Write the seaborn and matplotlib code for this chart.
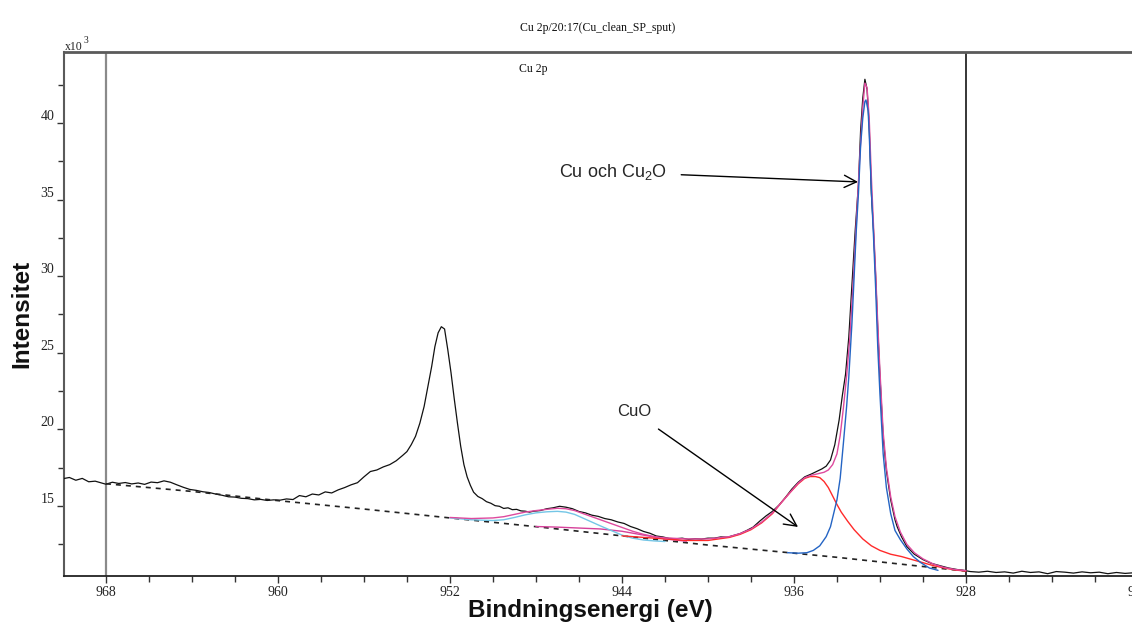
import matplotlib
matplotlib.use("Agg")
import matplotlib.pyplot as plt
import seaborn as sns
import pandas as pd
from matplotlib.ticker import MultipleLocator

# ---------------- data (intensity in units of 10^3 counts) ----------------
spec_energy = [970.0, 969.7, 969.4, 969.1, 968.8, 968.5, 968.2, 968.0, 967.7, 967.4,
               967.1, 966.8, 966.5, 966.2, 965.9, 965.6, 965.3, 965.0, 964.7, 964.4,
               964.1, 963.8, 963.5, 963.2, 962.9, 962.6, 962.3, 962.0, 961.7, 961.4,
               961.1, 960.8, 960.5, 960.2, 959.9, 959.6, 959.3, 959.0, 958.7, 958.4,
               958.1, 957.8, 957.5, 957.2, 956.9, 956.6, 956.3, 956.0, 955.7, 955.4,
               955.1, 954.8, 954.5, 954.2, 954.0, 953.8, 953.6, 953.4, 953.2, 953.0,
               952.85, 952.7, 952.55, 952.4, 952.25, 952.1, 951.95, 951.8, 951.65, 951.5,
               951.35, 951.2, 951.05, 950.9, 950.7, 950.5, 950.3, 950.1, 949.9, 949.7,
               949.5, 949.3, 949.1, 948.9, 948.7, 948.5, 948.3, 948.1, 947.8, 947.5,
               947.2, 946.9, 946.6, 946.3, 946.0, 945.7, 945.4, 945.1, 944.8, 944.5,
               944.2, 943.9, 943.6, 943.3, 943.0, 942.7, 942.4, 942.1, 941.8, 941.5,
               941.2, 940.9, 940.6, 940.3, 940.0, 939.7, 939.4, 939.1, 938.8, 938.5,
               938.2, 937.9, 937.6, 937.3, 937.0, 936.7, 936.4, 936.1, 935.8, 935.5,
               935.2, 934.9, 934.7, 934.5, 934.3, 934.1, 933.9, 933.75, 933.6, 933.45,
               933.3, 933.15, 933.0, 932.9, 932.8, 932.7, 932.6, 932.5, 932.4, 932.3,
               932.2, 932.1, 932.0, 931.85, 931.7, 931.5, 931.3, 931.2, 931.0, 930.75,
               930.4, 930.0, 929.6, 929.2, 928.8, 928.4, 928.1, 927.8, 927.4, 927.0,
               926.6, 926.2, 925.8, 925.4, 925.0, 924.6, 924.2, 923.8, 923.4, 923.0,
               922.6, 922.2, 921.8, 921.4, 921.0, 920.6, 920.2, 919.8, 919.4]
spec_counts = [16.78, 16.86, 16.68, 16.80, 16.58, 16.62, 16.50, 16.42, 16.55, 16.47,
               16.53, 16.44, 16.50, 16.41, 16.56, 16.52, 16.64, 16.55, 16.38, 16.22,
               16.08, 16.02, 15.93, 15.88, 15.78, 15.70, 15.60, 15.58, 15.50, 15.48,
               15.40, 15.43, 15.36, 15.40, 15.38, 15.46, 15.42, 15.68, 15.60, 15.78,
               15.72, 15.92, 15.85, 16.05, 16.20, 16.38, 16.52, 16.90, 17.25, 17.35,
               17.55, 17.70, 17.95, 18.30, 18.55, 19.00, 19.55, 20.40, 21.50, 23.00,
               24.10, 25.40, 26.30, 26.70, 26.55, 25.20, 23.70, 22.00, 20.40, 18.90,
               17.70, 16.90, 16.35, 15.90, 15.62, 15.48, 15.28, 15.18, 15.02, 14.98,
               14.84, 14.88, 14.76, 14.78, 14.68, 14.66, 14.60, 14.66, 14.70, 14.82,
               14.88, 14.98, 14.92, 14.82, 14.64, 14.55, 14.40, 14.32, 14.18, 14.10,
               13.96, 13.86, 13.66, 13.52, 13.34, 13.22, 13.04, 12.98, 12.88, 12.86,
               12.90, 12.82, 12.86, 12.84, 12.90, 12.90, 12.98, 12.96, 13.08, 13.20,
               13.40, 13.62, 14.00, 14.35, 14.65, 15.05, 15.55, 16.10, 16.55, 16.90,
               17.08, 17.28, 17.42, 17.60, 18.00, 19.00, 20.60, 22.20, 23.60, 26.00,
               29.50, 33.00, 36.00, 39.50, 41.60, 42.85, 42.20, 39.80, 35.40, 33.00,
               30.00, 26.50, 23.50, 19.50, 17.30, 15.40, 14.10, 13.65, 13.00, 12.35,
               11.85, 11.50, 11.25, 11.10, 10.95, 10.85, 10.80, 10.72, 10.68, 10.74,
               10.66, 10.70, 10.62, 10.74, 10.66, 10.70, 10.58, 10.72, 10.68, 10.62,
               10.70, 10.64, 10.68, 10.58, 10.66, 10.60, 10.64, 10.58, 10.62]

bg_energy = [968.0, 964.0, 960.0, 956.0, 952.0, 948.0, 944.0, 940.0, 936.0, 934.0,
             932.0, 930.0, 928.0]
bg_counts = [16.45, 15.95, 15.35, 14.80, 14.22, 13.65, 13.05, 12.45, 11.92, 11.65,
             11.35, 11.05, 10.75]

cu_energy = [936.3, 935.8, 935.4, 935.1, 934.8, 934.5, 934.3, 934.0, 933.85, 933.7,
             933.55, 933.45, 933.3, 933.2, 933.1, 933.0, 932.9, 932.8, 932.7, 932.65,
             932.55, 932.5, 932.4, 932.3, 932.2, 932.1, 932.0, 931.85, 931.7, 931.5,
             931.3, 931.05, 930.75, 930.45, 930.1, 929.7, 929.3]
cu_counts = [11.95, 11.92, 11.95, 12.10, 12.40, 13.00, 13.65, 15.40, 16.80, 19.10,
             21.50, 23.40, 27.00, 30.00, 33.00, 35.40, 38.50, 40.30, 41.40, 41.50,
             40.80, 39.30, 35.60, 32.60, 29.20, 25.30, 22.30, 18.40, 16.20, 14.50,
             13.40, 12.80, 12.20, 11.70, 11.30, 10.95, 10.80]

cuo_energy = [944.0, 943.0, 942.0, 941.0, 940.0, 939.0, 938.5, 938.0, 937.5, 937.0,
              936.6, 936.2, 935.8, 935.5, 935.25, 935.0, 934.8, 934.6, 934.4, 934.2,
              934.0, 933.8, 933.5, 933.2, 932.8, 932.4, 932.0, 931.5, 931.0, 930.5,
              930.0, 929.5, 929.0, 928.5, 928.0]
cuo_counts = [13.05, 12.95, 12.85, 12.75, 12.75, 12.95, 13.15, 13.45, 13.90, 14.50,
              15.20, 15.85, 16.45, 16.80, 16.92, 16.92, 16.85, 16.60, 16.20, 15.65,
              15.10, 14.60, 14.00, 13.45, 12.85, 12.40, 12.10, 11.85, 11.70, 11.50,
              11.30, 11.10, 10.95, 10.82, 10.75]

sat1_energy = [952.0, 951.0, 950.0, 949.5, 949.0, 948.5, 948.0, 947.5, 947.0, 946.6,
               946.2, 945.8, 945.4, 945.0, 944.5, 944.0, 943.5, 943.0, 942.5, 942.0]
sat1_counts = [14.22, 14.10, 14.05, 14.10, 14.25, 14.42, 14.55, 14.62, 14.65, 14.60,
               14.45, 14.20, 13.95, 13.70, 13.40, 13.10, 12.90, 12.78, 12.72, 12.68]

sat2_energy = [948.0, 947.0, 946.0, 945.0, 944.0, 943.0, 942.0, 941.0]
sat2_counts = [13.66, 13.62, 13.56, 13.50, 13.35, 13.10, 12.85, 12.70]

env_energy = [952.0, 951.0, 950.0, 949.5, 949.0, 948.5, 948.0, 947.5, 947.0, 946.6,
              946.2, 945.8, 945.4, 945.0, 944.5, 944.0, 943.5, 943.0, 942.5, 942.0,
              941.0, 940.0, 939.0, 938.5, 938.0, 937.5, 937.0, 936.6, 936.2, 935.8,
              935.5, 935.2, 934.9, 934.6, 934.4, 934.2, 934.0, 933.85, 933.7, 933.55,
              933.4, 933.25, 933.1, 932.95, 932.8, 932.7, 932.6, 932.5, 932.4, 932.3,
              932.2, 932.1, 932.0, 931.85, 931.7, 931.5, 931.3, 931.05, 930.75, 930.4,
              930.0, 929.5, 929.0, 928.5, 928.0]
env_counts = [14.25, 14.18, 14.22, 14.30, 14.45, 14.60, 14.70, 14.78, 14.85, 14.82,
              14.70, 14.50, 14.30, 14.10, 13.85, 13.60, 13.35, 13.15, 13.00, 12.92,
              12.85, 12.85, 13.00, 13.20, 13.50, 13.95, 14.55, 15.20, 15.85, 16.50,
              16.85, 17.00, 17.10, 17.20, 17.35, 17.70, 18.40, 19.60, 21.40, 23.50,
              26.00, 29.50, 33.50, 37.50, 41.00, 42.60, 42.30, 40.30, 36.50, 33.30,
              30.20, 26.80, 23.80, 19.80, 17.50, 15.60, 14.30, 13.30, 12.50, 11.95,
              11.55, 11.20, 10.98, 10.85, 10.78]

region_limits = [968, 928]
x_major = [968, 960, 952, 944, 936, 928, 920]
y_major = [15, 20, 25, 30, 35, 40]

title_text = "Cu 2p/20:17(Cu_clean_SP_sput)"
region_text = "Cu 2p"
x_label = "Bindningsenergi (eV)"
y_label = "Intensitet"

# ---------------- figure ----------------
sns.set_theme(style="ticks")
plt.rcParams["font.family"] = ["Liberation Serif", "DejaVu Serif"]
plt.rcParams["mathtext.fontset"] = "custom"
plt.rcParams["mathtext.rm"] = "Liberation Sans"
plt.rcParams["mathtext.it"] = "Liberation Sans:italic"

W, H = 1132, 644
fig = plt.figure(figsize=(W / 100, H / 100), dpi=100)
fig.patch.set_facecolor("white")
# axes extends a little past the right edge of the canvas (as in the reference)
ax = fig.add_axes([64 / W, (H - 576) / H, (1150 - 64) / W, (576 - 52) / H])
ax.set_facecolor("white")

def draw(e, c, **kw):
    df = pd.DataFrame({"E": e, "I": c})
    sns.lineplot(data=df, x="E", y="I", ax=ax, sort=False, estimator=None, **kw)

for xv, col, lw in zip(region_limits, ["#8a8a8a", "black"], [1.6, 1.1]):
    ax.axvline(xv, color=col, lw=lw, zorder=1)

draw(spec_energy, spec_counts, color="#111111", lw=0.9, zorder=3)
draw(bg_energy, bg_counts, color="#222222", lw=1.2, linestyle=(0, (3, 3)), zorder=4)
draw(sat2_energy, sat2_counts, color="#d6409a", lw=1.0, zorder=4)
draw(sat1_energy, sat1_counts, color="#74c6e6", lw=1.0, zorder=4)
draw(cuo_energy, cuo_counts, color="#ff2a2a", lw=1.0, zorder=4)
draw(cu_energy, cu_counts, color="#2464c4", lw=1.0, zorder=5)
draw(env_energy, env_counts, color="#de4a9e", lw=1.0, zorder=4)

ax.set_xlim(969.95, 919.44)
ax.set_ylim(10.43, 44.63)

ax.xaxis.set_major_locator(plt.FixedLocator(x_major))
ax.xaxis.set_minor_locator(MultipleLocator(2))
ax.yaxis.set_major_locator(plt.FixedLocator(y_major))
ax.yaxis.set_minor_locator(MultipleLocator(2.5))
ax.set_xticklabels([str(v) for v in x_major])
ax.set_yticklabels([str(v) for v in y_major])
ax.tick_params(axis="both", which="major", direction="out", length=5, width=1,
               color="#333333", labelsize=10, labelcolor="#222222", pad=2)
ax.tick_params(axis="both", which="minor", direction="out", length=4, width=1,
               color="#333333")
for lbl in ax.get_yticklabels():
    lbl.set_va("bottom")

for side in ["top", "left"]:
    ax.spines[side].set_color("#5a5a5a")
ax.spines["top"].set_linewidth(2.0)
ax.spines["left"].set_linewidth(1.5)
ax.spines["bottom"].set_color("#222222")
ax.spines["bottom"].set_linewidth(1.3)
ax.spines["right"].set_visible(False)

AXW = 1150 - 64
ax.set_xlabel(x_label, fontsize=17.5, fontweight="bold", family="Liberation Sans", color="#111111")
ax.xaxis.set_label_coords((590 - 64) / AXW, -(610 - 576) / 524)
ax.xaxis.label.set_va("center")
ax.set_ylabel(y_label, fontsize=17.5, fontweight="bold", family="Liberation Sans", color="#111111")
ax.yaxis.set_label_coords(-(64 - 22) / AXW, 0.5)
ax.yaxis.label.set_va("center")

fig.text(598 / W, 1 - 28 / H, title_text, ha="center", va="center", fontsize=8.5, color="#111111")
fig.text(533 / W, 1 - 69 / H, region_text, ha="center", va="center", fontsize=8.5, color="#111111")
fig.text(65 / W, 1 - 50 / H, "x10", ha="left", va="baseline", fontsize=8.5, color="#222222")
fig.text(84 / W, 1 - 43 / H, "3", ha="left", va="baseline", fontsize=7, color="#222222")

arrow = dict(arrowstyle="->", color="black", lw=1.0, mutation_scale=22, shrinkA=8, shrinkB=0)
ax.annotate("Cu och Cu$_2$O", xy=(933.02, 36.15), xytext=(944.42, 36.8),
            ha="center", va="center", fontsize=13, family="Liberation Sans",
            arrowprops=arrow, zorder=6)
ax.annotate("CuO", xy=(935.81, 13.63), xytext=(943.44, 21.14),
            ha="center", va="center", fontsize=12, family="Liberation Sans",
            arrowprops=arrow, zorder=6)

fig.savefig("out.png", dpi=100, facecolor="white")
